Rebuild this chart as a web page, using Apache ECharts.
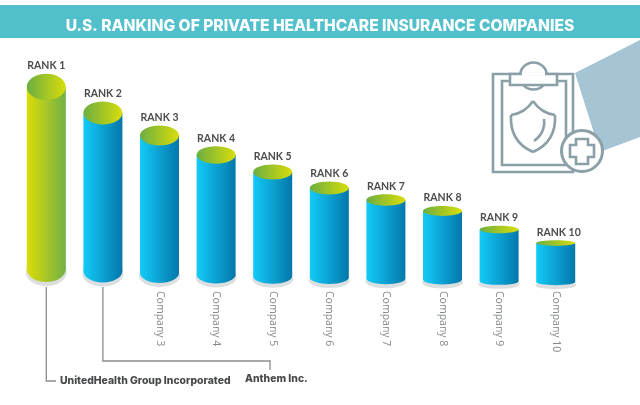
<!DOCTYPE html>
<html>
<head>
<meta charset="utf-8">
<style>
    html, body { margin: 0; padding: 0; background: #fff; }
    #main { width: 640px; height: 405px; }
</style>
<script src="https://cdn.jsdelivr.net/npm/echarts@6/dist/echarts.min.js"></script>
</head>
<body>
<div id="main"></div>
<script>
var titleText = "U.S. RANKING OF PRIVATE HEALTHCARE INSURANCE COMPANIES";
var companies = ["", "", "Company 3", "Company 4", "Company 5", "Company 6", "Company 7", "Company 8", "Company 9", "Company 10"];
var ranks = ["RANK 1", "RANK 2", "RANK 3", "RANK 4", "RANK 5", "RANK 6", "RANK 7", "RANK 8", "RANK 9", "RANK 10"];
var heights = [199, 173, 150.5, 131, 114, 98, 86, 75, 56.5, 43];
var topNames = ["UnitedHealth Group Incorporated", "Anthem Inc."];

var FONT = "Inter";

function hGrad(left, right) {
    return new echarts.graphic.LinearGradient(0, 0, 1, 0, [
        { offset: 0, color: left },
        { offset: 1, color: right }
    ]);
}

function renderCylinder(params, api) {
    var idx = api.value(0);
    var top = api.coord([idx, api.value(1)]);
    var base = api.coord([idx, 0]);
    var rx = 19.5;
    var h = base[1] - top[1];
    var ry = h * 0.066;
    var bottom = base[1] - h * 0.02;  // taller cylinders sit a little higher
    var side = idx == 0 ? hGrad("#dbdd08", "#72b046") : hGrad("#13cbf8", "#0377ab");
    var cap = hGrad("#6cae42", "#d8dd0a");
    var children = [
        { type: "ellipse", shape: { cx: top[0], cy: bottom - ry + 3, rx: rx + 1, ry: ry + 1 }, style: { fill: "#dcdfdf" } },
        { type: "ellipse", shape: { cx: top[0], cy: bottom - ry, rx: rx, ry: ry }, style: { fill: side } },
        { type: "rect", shape: { x: top[0] - rx, y: top[1], width: rx * 2, height: bottom - ry - top[1] }, style: { fill: side } },
        { type: "ellipse", shape: { cx: top[0], cy: top[1], rx: rx, ry: ry }, style: { fill: cap } },
        {
            type: "text",
            style: {
                x: top[0] + (idx == 9 ? 3 : 0),
                y: top[1] - ry - 8,
                text: ranks[idx],
                fill: "#4a4c4e",
                font: "700 10.5px Lato",
                textAlign: "center",
                textVerticalAlign: "middle"
            }
        }
    ];
    return { type: "group", children: children };
}

function curve(a, b, c, d, style) {
    return { type: "bezierCurve", shape: { x1: a[0], y1: a[1], cpx1: b[0], cpy1: b[1], cpx2: c[0], cpy2: c[1], x2: d[0], y2: d[1] }, style: style };
}

var seriesData = heights.map(function (v, i) { return [i, v]; });

var myChart = echarts.init(document.getElementById("main"), null, { renderer: "canvas" });
var opt = {
    animation: false,
    backgroundColor: "#fff",
    title: {
        text: titleText,
        left: "center",
        top: 13,
        textStyle: { color: "#fff", fontFamily: FONT, fontWeight: 800, fontSize: 15.6 }
    },
    grid: { left: 18, top: 40, width: 566, bottom: 119 },
    xAxis: {
        type: "category",
        data: companies,
        axisLine: { show: false },
        axisTick: { show: false },
        axisLabel: { interval: 0, rotate: -90, margin: 5, padding: [0, 0, 8, 0], color: "#85898c", fontFamily: "Open Sans", fontSize: 10.5 }
    },
    yAxis: { type: "value", min: 0, max: 246, show: false },
    series: [{ type: "custom", renderItem: renderCylinder, data: seriesData, clip: false, encode: { x: 0, y: 1 } }]
};
myChart.setOption(opt);

// header band, clipboard icon and the two leader lines
var x1 = myChart.convertToPixel({ xAxisIndex: 0 }, 0);
var x2 = myChart.convertToPixel({ xAxisIndex: 0 }, 1);
var iconStyle = { fill: "none", stroke: "#8b9fa6", lineWidth: 2.6 };
var lineStyle = { fill: "none", stroke: "#8a8d8f", lineWidth: 1.3 };
myChart.setOption({
    graphic: [
        { type: "rect", z: -1, shape: { x: 0, y: 5, width: 640, height: 33 }, style: { fill: "#52c0cb" } },
        { type: "polygon", z: -1, shape: { points: [[575, 73], [640, 40], [640, 137], [600, 152]] }, style: { fill: "#a6c5d4" } },
        { type: "rect", shape: { x: 493, y: 74, width: 80, height: 98 }, style: { fill: "#fff", stroke: "#8b9fa6", lineWidth: 2.6 } },
        { type: "polyline", shape: { points: [[510, 81], [502, 81], [502, 165], [566, 165], [566, 81], [557, 81]] }, style: iconStyle },
        { type: "circle", shape: { cx: 533.5, cy: 76, r: 13.5 }, style: { fill: "#fff", stroke: "#8b9fa6", lineWidth: 2.6 } },
        { type: "polygon", shape: { points: [[510, 85], [510, 74], [557, 74], [557, 85]] }, style: { fill: "#fff", stroke: "#8b9fa6", lineWidth: 2.6 } },
        { type: "line", shape: { x1: 522, y1: 74, x2: 545, y2: 74 }, style: { stroke: "#fff", lineWidth: 3.5 } },
        curve([533, 101], [527, 110], [519, 114], [511, 115], iconStyle),
        curve([511, 115], [510, 132], [517, 145], [533, 152], iconStyle),
        curve([533, 152], [549, 145], [556, 132], [555, 115], iconStyle),
        curve([555, 115], [547, 114], [539, 110], [533, 101], iconStyle),
        curve([544, 119], [545, 124], [544, 134], [534, 141], iconStyle),
        { type: "circle", shape: { cx: 582, cy: 151, r: 20.5 }, style: { fill: "#fff", stroke: "#8b9fa6", lineWidth: 3 } },
        { type: "polygon", shape: { points: [[576, 139], [588, 139], [588, 145], [594, 145], [594, 157], [588, 157], [588, 164], [576, 164], [576, 157], [570, 157], [570, 145], [576, 145]] }, style: iconStyle },
        { type: "polyline", shape: { points: [[x1, 287], [x1, 381], [56, 381]] }, style: lineStyle },
        { type: "polyline", shape: { points: [[x2, 287], [x2, 361], [270, 361], [270, 370]] }, style: lineStyle },
        { type: "text", style: { x: 60, y: 381, text: topNames[0], fill: "#46484a", font: "800 10.4px " + FONT, textVerticalAlign: "middle" } },
        { type: "text", style: { x: 245, y: 379, text: topNames[1], fill: "#46484a", font: "800 10.4px " + FONT, textVerticalAlign: "middle" } }
    ]
});
</script>
</body>
</html>
